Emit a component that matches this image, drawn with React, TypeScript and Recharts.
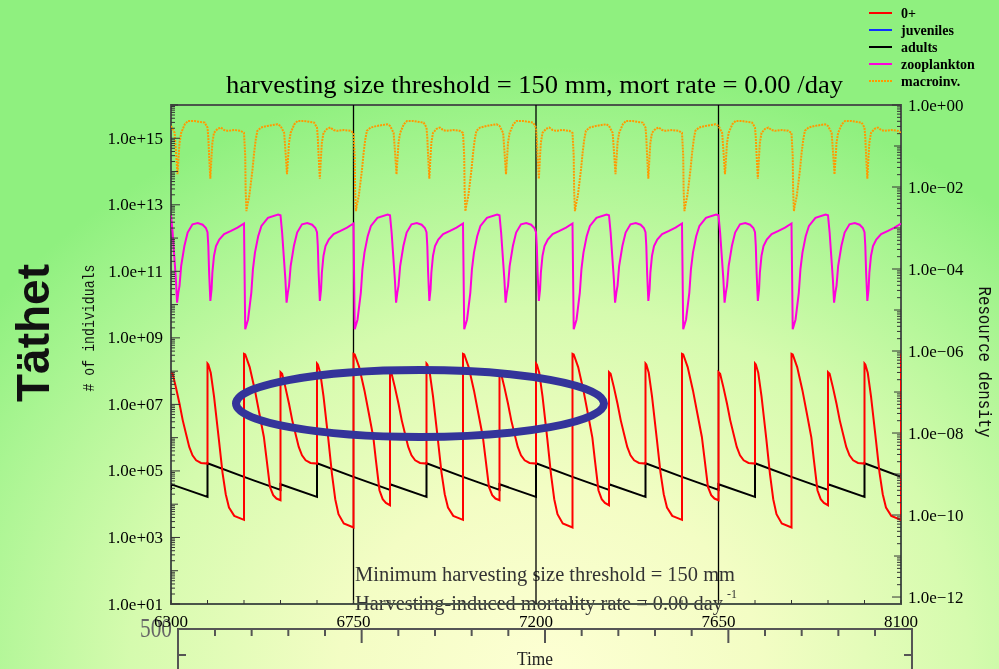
import React from 'react';
import { LineChart, Line, XAxis, YAxis, ReferenceLine, ReferenceArea } from 'recharts';

const W = 999;
const H = 669;
const PLOT = { left: 171, right: 901, top: 105, bottom: 604 };

// 90-day reproduction pulses and the kind of season that follows each one
const pulseTimes = [6300, 6390, 6480, 6570, 6660, 6750, 6840, 6930, 7020, 7110, 7200, 7290, 7380, 7470, 7560, 7650, 7740, 7830, 7920, 8010];
const pulseKinds = ['C', 'A', 'B', 'C', 'a', 'b', 'C', 'A', 'B', 'C', 'a', 'b', 'C', 'A', 'B', 'C', 'a', 'b', 'C', 'A'];

// [days after pulse, log10 of value]
const zeroPlusA = [[0, 8.23], [2, 8.2], [8, 7.95], [16, 7.25], [28, 5.95], [37, 4.95], [45, 4.3], [53, 3.9], [66, 3.65], [90, 3.53]];
const zeroPlusDeepA = [[0, 8.23], [2, 8.2], [8, 7.95], [16, 7.25], [28, 5.95], [37, 4.9], [45, 4.15], [53, 3.7], [66, 3.42], [90, 3.3]];
const zeroPlusB = [[0, 8.52], [3, 8.5], [14, 8.12], [27, 7.42], [38, 6.72], [49, 6.02], [55, 5.42], [64, 4.52], [72, 4.27], [80, 4.17], [90, 4.12]];
const zeroPlusDeepB = [[0, 8.52], [3, 8.5], [14, 8.12], [27, 7.42], [38, 6.72], [49, 6.0], [55, 5.35], [64, 4.42], [72, 4.15], [80, 4.04], [90, 3.97]];
const zeroPlusC = [[0, 7.97], [4, 7.92], [12, 7.52], [21, 7.02], [29, 6.52], [37, 6.12], [45, 5.72], [53, 5.47], [62, 5.32], [74, 5.24], [90, 5.22]];
const zeroPlusEnd = [[8100, 8.52]];

const adultsA = [[0, 4.22], [0, 5.23], [90, 4.82]];
const adultsB = [[0, 4.82], [90, 4.43]];
const adultsC = [[0, 4.43], [0, 4.6], [90, 4.22]];

const zooA = [[0, -3.1], [2, -3.44], [4, -4.09], [7, -4.78], [10, -4.5], [12, -4.09], [16, -3.68], [21, -3.44], [29, -3.28], [41, -3.15], [58, -3.07], [74, -2.99], [90, -2.89]];
const zooB = [[0, -2.89], [3, -5.47], [10, -5.23], [18, -4.58], [22, -4.01], [27, -3.6], [35, -3.2], [43, -2.95], [59, -2.75], [84, -2.67], [90, -2.69]];
const zooC = [[0, -2.69], [4, -3.11], [8, -3.68], [12, -4.25], [15, -4.82], [18, -4.58], [21, -4.41], [25, -3.93], [33, -3.44], [41, -3.11], [53, -2.91], [66, -2.88], [78, -2.92], [86, -3.0], [90, -3.1]];

const macroA = [[0, -0.55], [2, -0.8], [4, -1.24], [7, -1.8], [10, -1.24], [12, -0.92], [16, -0.68], [25, -0.58], [33, -0.55], [41, -0.61], [49, -0.63], [66, -0.61], [82, -0.63], [90, -0.68]];
const macroB = [[0, -0.68], [3, -1.24], [4, -2.06], [6, -2.59], [8, -2.46], [13, -2.22], [17, -1.9], [21, -1.57], [25, -1.16], [29, -0.84], [33, -0.63], [42, -0.55], [58, -0.51], [83, -0.47], [90, -0.51]];
const macroC = [[0, -0.51], [9, -0.68], [13, -1.24], [16, -1.69], [19, -1.24], [21, -0.92], [25, -0.68], [34, -0.47], [42, -0.39], [58, -0.39], [83, -0.43], [90, -0.55]];

const legendItems = [
  { name: '0+', color: '#ff0000' },
  { name: 'juveniles', color: '#1030ff' },
  { name: 'adults', color: '#000000' },
  { name: 'zooplankton', color: '#ff00dd' },
  { name: 'macroinv.', color: '#ff9900', dashed: true },
];

const leftLabelExps = [1, 3, 5, 7, 9, 11, 13, 15];
const rightLabelExps = [-12, -10, -8, -6, -4, -2, 0];
const xLabelTicks = [6300, 6750, 7200, 7650, 8100];
const verticalMarks = [6750, 7200, 7650];

type Shape = number[][];

function buildSeries(shapes: Record<string, Shape>, tail: Shape = []) {
  const rows: { t: number; v: number }[] = [];
  pulseTimes.forEach((t0, i) => {
    shapes[pulseKinds[i]].forEach(([d, e]) => rows.push({ t: t0 + d, v: 10 ** e }));
  });
  tail.forEach(([t, e]) => rows.push({ t, v: 10 ** e }));
  return rows;
}

const zeroPlusData = buildSeries({ A: zeroPlusA, a: zeroPlusDeepA, B: zeroPlusB, b: zeroPlusDeepB, C: zeroPlusC }, zeroPlusEnd);
const adultsData = buildSeries({ A: adultsA, a: adultsA, B: adultsB, b: adultsB, C: adultsC });
const zooData = buildSeries({ A: zooA, a: zooA, B: zooB, b: zooB, C: zooC });
const macroData = buildSeries({ A: macroA, a: macroA, B: macroB, b: macroB, C: macroC });

function logTicks(lo: number, hi: number) {
  const out: number[] = [];
  for (let n = lo; n < hi; n++) for (let m = 1; m < 10; m++) out.push(m * 10 ** n);
  out.push(10 ** hi);
  return out;
}
const leftTicks = logTicks(1, 16);
const rightTicks = logTicks(-12, 0);
const xTicks: number[] = [];
for (let t = 6300; t <= 8100; t += 90) xTicks.push(t);

const tickFont = { fontFamily: '"Liberation Serif", serif', fontSize: 17, fill: '#000' };

function decadeOf(v: number) {
  const lg = Math.log10(v);
  const n = Math.round(lg);
  return { n, decade: Math.abs(lg - n) < 1e-6 };
}

const fmtExp = (n: number, minus: string) => `1.0e${n < 0 ? minus : '+'}${String(Math.abs(n)).padStart(2, '0')}`;

const LeftTick = (props: any) => {
  const { y, payload } = props;
  const { n, decade } = decadeOf(payload.value);
  const labeled = decade && leftLabelExps.includes(n);
  const len = labeled ? 9 : decade ? 7 : 4;
  return (
    <g>
      <line x1={PLOT.left} x2={PLOT.left + len} y1={y} y2={y} stroke="#333" strokeWidth={1} />
      {labeled && (
        <text x={PLOT.left - 8} y={y + 5.5} textAnchor="end" style={tickFont}>
          {fmtExp(n, '-')}
        </text>
      )}
    </g>
  );
};

const RightTick = (props: any) => {
  const { y, payload } = props;
  const { n, decade } = decadeOf(payload.value);
  const labeled = decade && rightLabelExps.includes(n);
  const len = labeled ? 9 : decade ? 7 : 4;
  return (
    <g>
      <line x1={PLOT.right} x2={PLOT.right - len} y1={y} y2={y} stroke="#333" strokeWidth={1} />
      {labeled && (
        <text x={PLOT.right + 7} y={y + 5.5} textAnchor="start" style={tickFont}>
          {fmtExp(n, '\u2212')}
        </text>
      )}
    </g>
  );
};

const XTick = (props: any) => {
  const { x, payload } = props;
  const labeled = xLabelTicks.includes(payload.value);
  return (
    <g>
      <line x1={x} x2={x} y1={PLOT.bottom} y2={PLOT.bottom - 4} stroke="#333" strokeWidth={1} />
      {labeled && (
        <text x={x} y={627} textAnchor="middle" style={tickFont}>
          {payload.value}
        </text>
      )}
    </g>
  );
};

const serif = '"Liberation Serif", serif';
const mono = '"Liberation Mono", monospace';

export default function App() {
  const ghostTicks = Array.from({ length: 19 }, (_, i) => i + 1);
  return (
    <div
      style={{
        position: 'fixed',
        left: 0,
        top: 0,
        width: W,
        height: H,
        overflow: 'hidden',
        background:
          'radial-gradient(ellipse 70% 90% at 55% 100%, #fdffd3 0%, #f3fdc4 30%, #d5fbae 60%, #a9f592 85%, #8ff07f 100%)',
      }}
    >
      {/* underlay: second pasted axis and annotation text */}
      <svg width={W} height={H} style={{ position: 'absolute', left: 0, top: 0 }}>
        <g stroke="#555" strokeWidth={2} fill="none">
          <line x1={178} y1={629} x2={912} y2={629} />
          <line x1={178} y1={628} x2={178} y2={669} />
          <line x1={912} y1={628} x2={912} y2={669} />
          <line x1={178} y1={655} x2={186} y2={655} />
          <line x1={904} y1={655} x2={912} y2={655} />
          {ghostTicks.map((k) => {
            const x = 178.3 + k * 36.67;
            return <line key={k} x1={x} x2={x} y1={629} y2={k % 5 === 0 ? 643 : 636} />;
          })}
        </g>
        <text x={140} y={637} fontFamily={serif} fontSize={28} fill="#666" textLength={32} lengthAdjust="spacingAndGlyphs">
          500
        </text>
        <text x={517} y={665} fontFamily={serif} fontSize={19} fill="#222" textLength={36} lengthAdjust="spacingAndGlyphs">
          Time
        </text>
        <text x={355} y={580.5} fontFamily={serif} fontSize={20} fill="#333" textLength={380} lengthAdjust="spacingAndGlyphs">
          Minimum harvesting size threshold = 150 mm
        </text>
        <text x={355} y={610} fontFamily={serif} fontSize={20} fill="#333" textLength={368} lengthAdjust="spacingAndGlyphs">
          Harvesting-induced mortality rate = 0.00 day
        </text>
        <text x={727} y={598} fontFamily={serif} fontSize={12} fill="#333">
          -1
        </text>
      </svg>

      <div style={{ position: 'absolute', left: 0, top: 0 }}>
        <LineChart width={W} height={H} margin={{ top: PLOT.top, right: W - PLOT.right - 90, bottom: H - PLOT.bottom - 30, left: PLOT.left - 60 }}>
          <XAxis
            type="number"
            dataKey="t"
            domain={[6300, 8100]}
            ticks={xTicks}
            interval={0}
            tick={XTick}
            tickLine={false}
            axisLine={false}
            height={30}
            allowDataOverflow
          />
          <YAxis
            yAxisId="left"
            orientation="left"
            type="number"
            scale="log"
            domain={[10, 1e16]}
            ticks={leftTicks}
            interval={0}
            tick={LeftTick}
            tickLine={false}
            axisLine={false}
            width={60}
            allowDataOverflow
          />
          <YAxis
            yAxisId="right"
            orientation="right"
            type="number"
            scale="log"
            domain={[10 ** -12.17, 1]}
            ticks={rightTicks}
            interval={0}
            tick={RightTick}
            tickLine={false}
            axisLine={false}
            width={90}
            allowDataOverflow
          />
          {verticalMarks.map((t) => (
            <ReferenceLine key={t} yAxisId="left" x={t} stroke="#000" strokeWidth={1.3} />
          ))}
          <Line yAxisId="right" data={macroData} dataKey="v" type="linear" stroke="#ff9900" strokeWidth={2} strokeDasharray="2 1" dot={false} activeDot={false} isAnimationActive={false} />
          <Line yAxisId="right" data={zooData} dataKey="v" type="linear" stroke="#ff00dd" strokeWidth={2} dot={false} activeDot={false} isAnimationActive={false} />
          <Line yAxisId="left" data={adultsData} dataKey="v" type="linear" stroke="#000" strokeWidth={2} dot={false} activeDot={false} isAnimationActive={false} />
          <Line yAxisId="left" data={zeroPlusData} dataKey="v" type="linear" stroke="#ff0000" strokeWidth={2} dot={false} activeDot={false} isAnimationActive={false} />
          <ReferenceArea yAxisId="left" x1={6300} x2={8100} y1={10} y2={1e16} fill="none" stroke="#4a554a" strokeWidth={2} ifOverflow="visible" />
        </LineChart>
      </div>

      {/* overlay: titles, legend, highlight ellipse */}
      <svg width={W} height={H} style={{ position: 'absolute', left: 0, top: 0, pointerEvents: 'none' }}>
        <text x={226} y={93} fontFamily={serif} fontSize={26} fill="#000" textLength={617} lengthAdjust="spacingAndGlyphs">
          harvesting size threshold = 150 mm, mort rate = 0.00 /day
        </text>
        <text transform="translate(49,333) rotate(-90)" textAnchor="middle" fontFamily='"Liberation Sans", Arial, sans-serif' fontWeight="bold" fontSize={46} fill="#111">
          Täthet
        </text>
        <text transform="translate(94,328) rotate(-90)" textAnchor="middle" fontFamily={mono} fontSize={17} fill="#111" textLength={127} lengthAdjust="spacingAndGlyphs">
          # of individuals
        </text>
        <text transform="translate(979,362) rotate(90)" textAnchor="middle" fontFamily={mono} fontSize={18} fill="#111" textLength={151} lengthAdjust="spacingAndGlyphs">
          Resource density
        </text>
        {legendItems.map((it, i) => {
          const y = 13 + i * 17;
          return (
            <g key={it.name}>
              <line x1={869} x2={892} y1={y} y2={y} stroke={it.color} strokeWidth={2} strokeDasharray={it.dashed ? '2 1' : undefined} />
              <text x={901} y={y + 4.5} fontFamily={serif} fontWeight="bold" fontSize={14} fill="#000">
                {it.name}
              </text>
            </g>
          );
        })}
        <ellipse cx={420} cy={403.5} rx={184} ry={33.5} fill="none" stroke="#34349a" strokeWidth={8} />
      </svg>
    </div>
  );
}
